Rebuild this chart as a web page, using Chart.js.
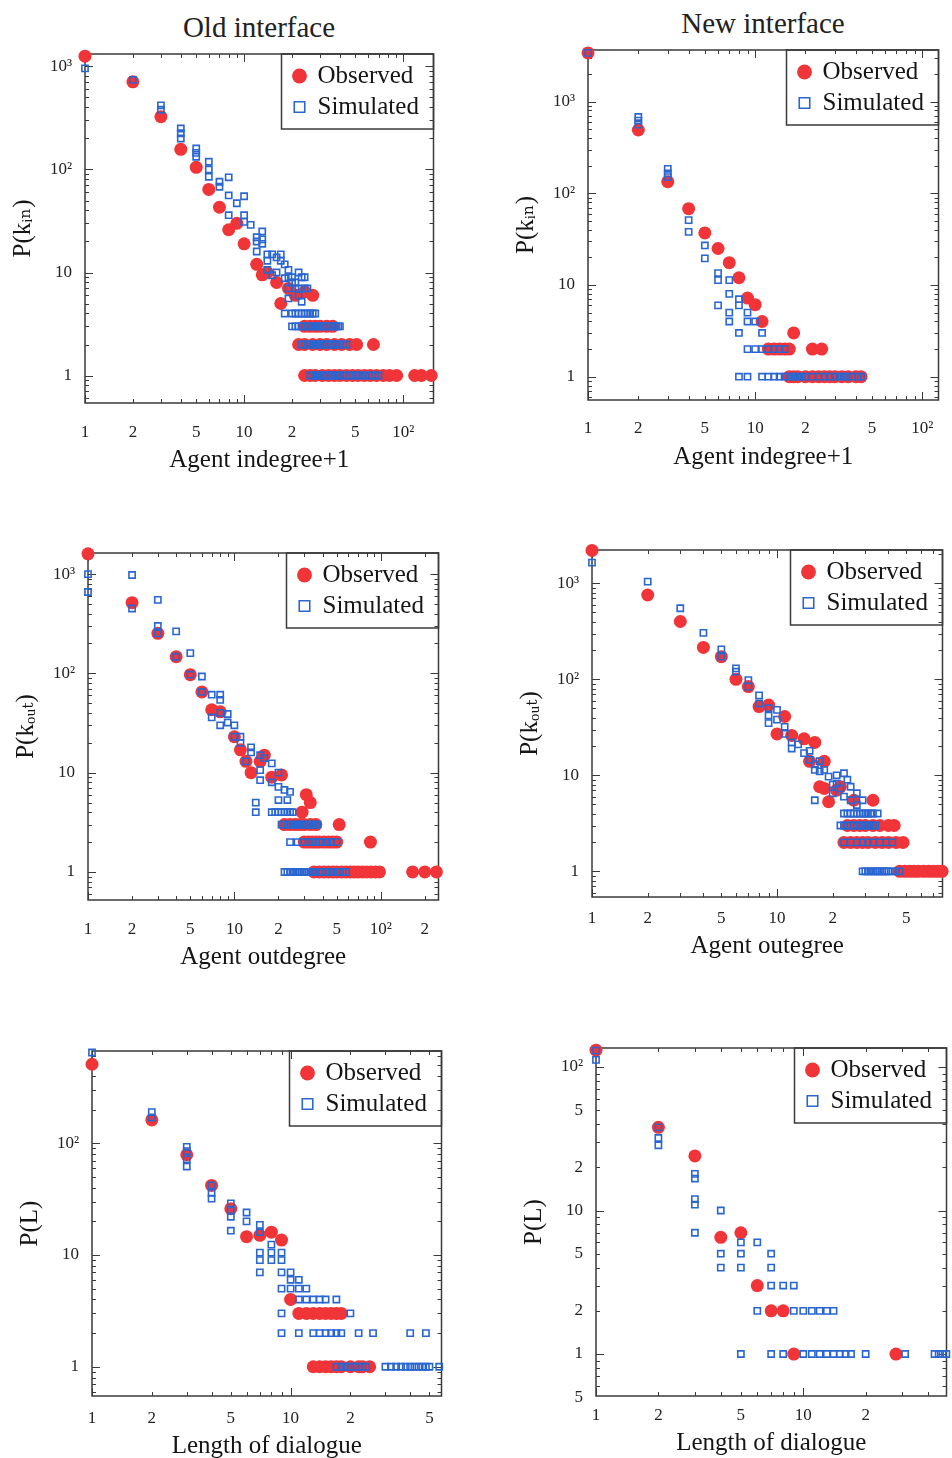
<!DOCTYPE html>
<html><head><meta charset="utf-8">
<script src="https://cdn.jsdelivr.net/npm/chart.js@4.4.1/dist/chart.umd.min.js"></script>
<style>
html,body{margin:0;padding:0;background:#fff;overflow:hidden;}
body{width:952px;height:1458px;position:relative;}
canvas{position:absolute;}
.ttl{position:absolute;font-family:"Liberation Serif","DejaVu Serif",serif;font-size:29px;color:#222;white-space:nowrap;transform:translateX(-50%);line-height:34px;}
</style></head><body>
<div class="ttl" style="left:259px;top:10px">Old interface</div>
<div class="ttl" style="left:763px;top:6px">New interface</div>
<script>
// ---------- DATA (x = degree / length, y = count) ----------
const oldIndegreeObserved = [[1,1260],[2,710],[3,326],[4,157],[5,105],[6,64],[7,43],[8,26],[9,30],[10,19],[12,12],[13,9.5],[14,10],[16,8],[17,5],[19,7],[21,6],[24,6.5],[27,6],
 [24,3],[26,3],[28,3],[30,3],[33,3],[36,3],
 [22,2],[24,2],[27,2],[30,2],[33,2],[37,2],[41,2],[46,2],[51,2],[65,2],
 [24,1],[26,1],[28,1],[31,1],[34,1],[37,1],[40,1],[44,1],[48,1],[52,1],[57,1],[62,1],[68,1],[75,1],[82,1],[91,1],[118,1],[130,1],[150,1]];
const oldIndegreeSimulated = [[1,960],[2,740],[3,420],[3,380],[4,250],[4,225],[4,200],[5,160],[5,145],[5,133],[6,119],[6,100],[6,85],[7,76],[7,68],[8,84],[8,56],[8,36],[9,47],[10,55],[10,36],[10,31],[11,29],[12,22],[12,20],[12,16],[13,25],[13,21],[13,19],[14,15],[14,13],[14,10.6],[15,9.4],[15,15],[16,14],[16,10],[17,15],[17,13],[18,12],[18,8.8],[19,10.6],[19,9],[19,7],[19,5.6],[20,9],[20,8],[21,8],[21,7],[22,10],[22,7],[22,6],[23,9],[23,5.2],[24,9],[24,7],[25,7],
 [18,4],[20,4],[21,4],[22,4],[23,4],[24,4],[25,4],[26,4],[27,4],[28,4],
 [20,3],[21,3],[22,3],[23,3],[24,3],[25,3],[26,3],[27,3],[28,3],[29,3],[30,3],[31,3],[32,3],[33,3],[34,3],[35,3],[36,3],[37,3],[38,3],[39,3],[40,3],
 [23,2],[24,2],[25,2],[26,2],[27,2],[28,2],[29,2],[30,2],[31,2],[32,2],[33,2],[34,2],[35,2],[36,2],[37,2],[38,2],[40,2],[42,2],[44,2],
 [26,1],[27,1],[28,1],[29,1],[30,1],[31,1],[32,1],[33,1],[34,1],[35,1],[36,1],[37,1],[38,1],[39,1],[40,1],[42,1],[44,1],[46,1],[48,1],[50,1],[52,1],[55,1],[58,1],[61,1],[64,1],[67,1],[70,1]];

const newIndegreeObserved = [[1,3400],[2,490],[3,134],[4,68],[5,37],[6,25],[7,17.5],[8,12],[9,7.2],[10,6.1],[11,4],[17,3],
 [12,2],[13,2],[14,2],[15,2],[16,2],[22,2],[25,2],
 [16,1],[17,1],[18,1],[20,1],[22,1],[24,1],[26,1],[28,1],[30,1],[33,1],[36,1],[40,1],[43,1]];
const newIndegreeSimulated = [[1,3400],[2,680],[2,620],[2,560],[3,185],[3,165],[3,150],[4,51],[4,38],[5,27],[5,19.5],[6,13.5],[6,11.3],[6,6],[7,11.3],[7,8],[7,5],[7,4],[8,7],[8,6],[8,3],[9,5],[9,4],[10,4],[11,3],
 [9,2],[10,2],[11,2],[12,2],[13,2],[14,2],[15,2],
 [8,1],[9,1],[11,1],[12,1],[13,1],[14,1],[15,1],[16,1],[17,1],[18,1],[19,1],[20,1],[22,1],[24,1],[26,1],[28,1],[30,1],[32,1],[34,1],[36,1],[38,1],[41,1],[43,1]];

const oldOutdegreeObserved = [[1,1600],[2,515],[3,253],[4,147],[5,97],[6,65],[7,43],[8,41],[10,23],[11,17],[12,13],[13,10],[15,13],[16,15],[18,9],[21,9.5],[29,4],[31,6],[33,5],
 [22,3],[24,3],[26,3],[28,3],[30,3],[33,3],[36,3],[52,3],
 [30,2],[32,2],[34,2],[36,2],[38,2],[41,2],[44,2],[47,2],[50,2],[85,2],
 [35,1],[38,1],[41,1],[44,1],[47,1],[50,1],[54,1],[58,1],[62,1],[66,1],[70,1],[75,1],[80,1],[86,1],[92,1],[98,1],[165,1],[200,1],[240,1]];
const oldOutdegreeSimulated = [[1,1000],[1,660],[2,980],[2,450],[3,550],[3,300],[3,253],[4,265],[4,147],[5,160],[5,97],[6,93],[6,65],[7,61],[7,36],[8,61],[8,54],[8,40],[8,30],[9,39],[9,32],[10,30],[10,23],[11,23],[11,20],[12,13],[13,18],[13,16],[15,15],[15,10.6],[15,8.4],[16,14],[18,12.4],[18,8],[20,10],[20,7.2],[20,5.3],[22,6.7],[23,5.3],[24,6.4],[14,5],[14,4],
 [18,4],[19,4],[20,4],[21,4],[22,4],[23,4],[24,4],[25,4],
 [21,3],[22,3],[23,3],[24,3],[25,3],[26,3],[27,3],[28,3],[29,3],[30,3],[31,3],[32,3],[33,3],[34,3],[35,3],[36,3],[37,3],
 [24,2],[27,2],[30,2],[32,2],[34,2],[36,2],[38,2],[40,2],[43,2],[46,2],[50,2],
 [22,1],[23,1],[24,1],[25,1],[26,1],[27,1],[28,1],[29,1],[30,1],[31,1],[32,1],[33,1],[34,1],[35,1],[36,1],[38,1],[40,1],[42,1],[44,1],[46,1],[48,1],[50,1],[52,1],[55,1],[58,1]];

const newOutdegreeObserved = [[1,2200],[2,755],[3,400],[4,215],[5,172],[6,100],[7,84],[8,52],[9,54],[10,27],[11,41],[12,26],[14,24],[15,14],[16,22],[17,7.6],[18,14],[18,7.3],[19,5.3],[21,7],[22,7.6],[26,5.5],[33,5.5],
 [24,3],[26,3],[28,3],[30,3],[33,3],[36,3],[40,3],[43,3],
 [23,2],[25,2],[27,2],[29,2],[31,2],[34,2],[37,2],[40,2],[44,2],[48,2],
 [46,1],[49,1],[52,1],[55,1],[58,1],[62,1],[66,1],[70,1],[74,1],[78,1]];
const newOutdegreeSimulated = [[1,1640],[2,1040],[3,550],[4,305],[5,205],[5,172],[6,130],[6,120],[7,98],[7,84],[8,68],[8,56],[9,50],[9,42],[9,35],[10,48],[10,38],[11,32],[11,27],[12,22],[12,19],[13,21],[14,17],[15,18],[15,14.5],[16,13],[16,11.4],[17,14],[17,11],[18,11.4],[19,9.7],[20,8],[21,10],[21,8.2],[22,7.3],[23,10.5],[24,9],[25,7.6],[27,6.5],[23,6],[25,5.5],[27,4.9],[29,5.5],[16,5.5],[20,6.5],
 [23,4],[24,4],[25,4],[26,4],[27,4],[28,4],[29,4],[30,4],[31,4],[32,4],[33,4],[35,4],
 [22,3],[23,3],[24,3],[25,3],[26,3],[27,3],[28,3],[29,3],[30,3],[31,3],[32,3],[33,3],[34,3],
 [23,2],[25,2],[27,2],[29,2],[31,2],[33,2],[36,2],[39,2],[42,2],
 [29,1],[30,1],[31,1],[32,1],[33,1],[34,1],[35,1],[36,1],[37,1],[38,1],[39,1],[40,1],[42,1],[44,1],[46,1]];

const oldDialogueObserved = [[1,510],[2,162],[3,79],[4,42],[5,26],[6,14.6],[7,15],[8,16],[9,13.6],[10,4],
 [11,3],[12,3],[13,3],[14,3],[15,3],[16,3],[17,3],[18,3],
 [13,1],[14,1],[15,1],[16,1],[17,1],[18,1],[20,1],[22,1],[23,1],[25,1]];
const oldDialogueSimulated = [[1,650],[2,190],[2,170],[3,93],[3,85],[3,72],[3,62],[4,42],[4,36],[4,32],[5,29],[5,25],[5,22],[5,16.5],[6,24],[6,20],[7,18.6],[7,16],[7,10.5],[7,9],[7,7],[8,12.4],[8,10.5],[8,9],[9,10.5],[9,9],[9,7],[9,5],[9,3],[9,2],[10,7],[10,6],[10,5],[11,6],[11,5],[11,4],[11,2],[12,5],[12,4],[13,4],[14,4],[15,4],[17,4],[20,3],
 [13,2],[14,2],[15,2],[16,2],[17,2],[18,2],[22,2],[26,2],[40,2],[48,2],
 [17,1],[18,1],[19,1],[20,1],[21,1],[22,1],[23,1],[24,1],[30,1],[32,1],[34,1],[36,1],[38,1],[40,1],[42,1],[44,1],[46,1],[48,1],[50,1],[56,1]];

const newDialogueObserved = [[1,131],[2,38],[3,24],[4,6.5],[5,7],[6,3],[7,2],[8,2],[9,1],[28,1]];
const newDialogueSimulated = [[1,130],[1,112],[2,38],[2,32],[2,28.5],[3,18],[3,16.7],[3,12],[3,11],[3,7],[4,10],[4,5],[4,4],[5,6],[5,5],[5,4],[6,6],[7,5],[7,4],[7,3],[8,3],[9,3],
 [6,2],[9,2],[10,2],[11,2],[12,2],[13,2],[14,2],
 [5,1],[7,1],[8,1],[10,1],[11,1],[12,1],[13,1],[14,1],[15,1],[16,1],[17,1],[20,1],[31,1],[43,1],[45,1],[47,1],[49,1]];

// ---------- TICKS ----------
const xTicksA = [1,2,5,10,20,50,100];        const xLabelsA = ['1','2','5','10','2','5','10²'];
const xTicksB = [1,2,5,10,20,50,100,200];    const xLabelsB = ['1','2','5','10','2','5','10²','2'];
const xTicksC = [1,2,5,10,20,50];            const xLabelsC = ['1','2','5','10','2','5'];
const xTicksD = [1,2,5,10,20];               const xLabelsD = ['1','2','5','10','2'];
const yTicks3 = [1,10,100,1000];             const yLabels3 = ['1','10','10²','10³'];
const yTicks2 = [1,10,100];                  const yLabels2 = ['1','10','10²'];
const yTicksE = [0.5,1,2,5,10,20,50,100];    const yLabelsE = ['5','1','2','5','10','2','5','10²'];

// ---------- STYLE / LAYOUT ----------
const SERIF = '"Liberation Serif", "DejaVu Serif", serif';
const RED = 'rgb(240,52,56)';
const BLUE = 'rgb(42,102,208)';
const LEG_W = 152, LEG_H = 75;

const panels = [
 {obs:oldIndegreeObserved, sim:oldIndegreeSimulated, frame:[85,54,437,403], xr:[1,155], yr:[0.541,1322], xt:xTicksA, xl:xLabelsA, yt:yTicks3, yl:yLabels3, xTitle:'Agent indegree+1', yTitle:'P(kᵢₙ)', xTickPad:19, xTitlePad:3},
 {obs:newIndegreeObserved, sim:newIndegreeSimulated, frame:[588,50,942,400], xr:[1,125], yr:[0.557,3655], xt:xTicksA, xl:xLabelsA, yt:yTicks3, yl:yLabels3, xTitle:'Agent indegree+1', yTitle:'P(kᵢₙ)', xTickPad:18, xTitlePad:3},
 {obs:oldOutdegreeObserved, sim:oldOutdegreeSimulated, frame:[88,553,442,900], xr:[1,248], yr:[0.522,1631], xt:xTicksB, xl:xLabelsB, yt:yTicks3, yl:yLabels3, xTitle:'Agent outdegree', yTitle:'P(kₒᵤₜ)', xTickPad:19, xTitlePad:3},
 {obs:newOutdegreeObserved, sim:newOutdegreeSimulated, frame:[592,550,946,897], xr:[1,78.4], yr:[0.54,2223], xt:xTicksC, xl:xLabelsC, yt:yTicks3, yl:yLabels3, xTitle:'Agent outegree', yTitle:'P(kₒᵤₜ)', xTickPad:11, xTitlePad:11},
 {obs:oldDialogueObserved, sim:oldDialogueSimulated, frame:[92,1051,445,1396], xr:[1,57.5], yr:[0.547,670], xt:xTicksC, xl:xLabelsC, yt:yTicks2, yl:yLabels2, xTitle:'Length of dialogue', yTitle:'P(L)', xTickPad:12, xTitlePad:10},
 {obs:newDialogueObserved, sim:newDialogueSimulated, frame:[596,1048,950,1396], xr:[1,49.1], yr:[0.51,135.6], xt:xTicksD, xl:xLabelsD, yt:yTicksE, yl:yLabelsE, xTitle:'Length of dialogue', yTitle:'P(L)', xTickPad:9, xTitlePad:13}
];

function logMarks(min, max) {
  const out = [];
  for (let e = -1; e <= 3; e++) for (let m = 1; m <= 9; m++) {
    const v = m * Math.pow(10, e);
    if (v >= min * 0.999 && v <= max * 1.001) out.push({v, major: m === 1});
  }
  return out;
}

const framePlugin = {
  id: 'framePlugin',
  afterLayout(chart) {
    const lg = chart.legend, a = chart.chartArea;
    if (!lg) return;
    const bx = a.right - LEG_W;
    lg.left = bx + 6.5; lg.top = a.top + 3.5;
    lg.width = LEG_W - 8; lg.height = LEG_H - 4;
    lg.right = lg.left + lg.width; lg.bottom = lg.top + lg.height;
  },
  beforeDatasetsDraw(chart) {
    const {ctx, chartArea: a, scales: {x, y}} = chart;
    ctx.save();
    ctx.strokeStyle = '#3a3a3a';
    ctx.lineWidth = 1;
    ctx.beginPath();
    for (const t of logMarks(x.min, x.max)) {
      const px = Math.round(x.getPixelForValue(t.v)) + 0.5;
      const len = t.major ? 8 : 4;
      ctx.moveTo(px, a.bottom); ctx.lineTo(px, a.bottom - len);
      ctx.moveTo(px, a.top); ctx.lineTo(px, a.top + len);
    }
    for (const t of logMarks(y.min, y.max)) {
      const py = Math.round(y.getPixelForValue(t.v)) + 0.5;
      const len = t.major ? 8 : 4;
      ctx.moveTo(a.left, py); ctx.lineTo(a.left + len, py);
      ctx.moveTo(a.right, py); ctx.lineTo(a.right - len, py);
    }
    ctx.stroke();
    ctx.lineWidth = 1.5;
    ctx.strokeRect(a.left, a.top, a.right - a.left, a.bottom - a.top);
    ctx.strokeRect(a.right - LEG_W, a.top, LEG_W, LEG_H);
    ctx.restore();
  }
};

function toPts(arr) { return arr.map(p => ({x: p[0], y: p[1]})); }

panels.forEach(p => {
  const [L, T, R, B] = p.frame;
  const ox = L - 85, oy = T - 10;
  const w = R - ox + 3, h = B - oy + 80;
  const cv = document.createElement('canvas');
  cv.width = w; cv.height = h;
  cv.style.left = ox + 'px'; cv.style.top = oy + 'px';
  cv.style.width = w + 'px'; cv.style.height = h + 'px';
  document.body.appendChild(cv);
  new Chart(cv, {
    type: 'scatter',
    data: {
      datasets: [
        {label: 'Observed', data: toPts(p.obs), pointStyle: 'circle', pointRadius: 6.5, pointHoverRadius: 6.5,
         backgroundColor: RED, borderColor: RED, borderWidth: 0, order: 2, clip: false},
        {label: 'Simulated', data: toPts(p.sim), pointStyle: 'rect', pointRadius: 4.4, pointHoverRadius: 4.4,
         backgroundColor: 'rgba(255,255,255,0)', borderColor: BLUE, borderWidth: 1.6, order: 1, clip: false}
      ]
    },
    options: {
      responsive: false, animation: false, devicePixelRatio: 1,
      layout: {padding: {left: 5, top: 10, right: 3, bottom: 5}},
      plugins: {
        tooltip: {enabled: false},
        title: {display: false},
        legend: {
          display: true, position: 'chartArea', align: 'start',
          labels: {
            usePointStyle: true, boxWidth: 11, boxHeight: 10.5, padding: 6,
            font: {family: SERIF, size: 25}, color: '#151515',
            sort: (a, b) => a.datasetIndex - b.datasetIndex
          }
        }
      },
      scales: {
        x: {
          type: 'logarithmic', position: 'bottom', min: p.xr[0], max: p.xr[1], bounds: 'data',
          grid: {display: false, drawTicks: false}, border: {display: false},
          ticks: {autoSkip: false, maxRotation: 0, minRotation: 0, padding: p.xTickPad,
                  font: {family: SERIF, size: 17}, color: '#222',
                  callback: (v, i) => p.xl[i]},
          afterBuildTicks: s => { s.ticks = p.xt.map(v => ({value: v})); },
          afterFit: s => { s.height = 75; s.paddingLeft = 0; s.paddingRight = 0; },
          title: {display: true, text: p.xTitle, font: {family: SERIF, size: 25}, color: '#151515',
                  padding: {top: 0, bottom: p.xTitlePad}}
        },
        y: {
          type: 'logarithmic', position: 'left', min: p.yr[0], max: p.yr[1], bounds: 'data',
          grid: {display: false, drawTicks: false}, border: {display: false},
          ticks: {autoSkip: false, padding: 13, font: {family: SERIF, size: 17}, color: '#222',
                  callback: (v, i) => p.yl[i]},
          afterBuildTicks: s => { s.ticks = p.yt.map(v => ({value: v})); },
          afterFit: s => { s.width = 80; s.paddingTop = 0; s.paddingBottom = 0; },
          title: {display: true, text: p.yTitle, font: {family: SERIF, size: 25}, color: '#151515',
                  padding: {top: 3, bottom: 0}}
        }
      }
    },
    plugins: [framePlugin]
  });
});
</script>
</body></html>
